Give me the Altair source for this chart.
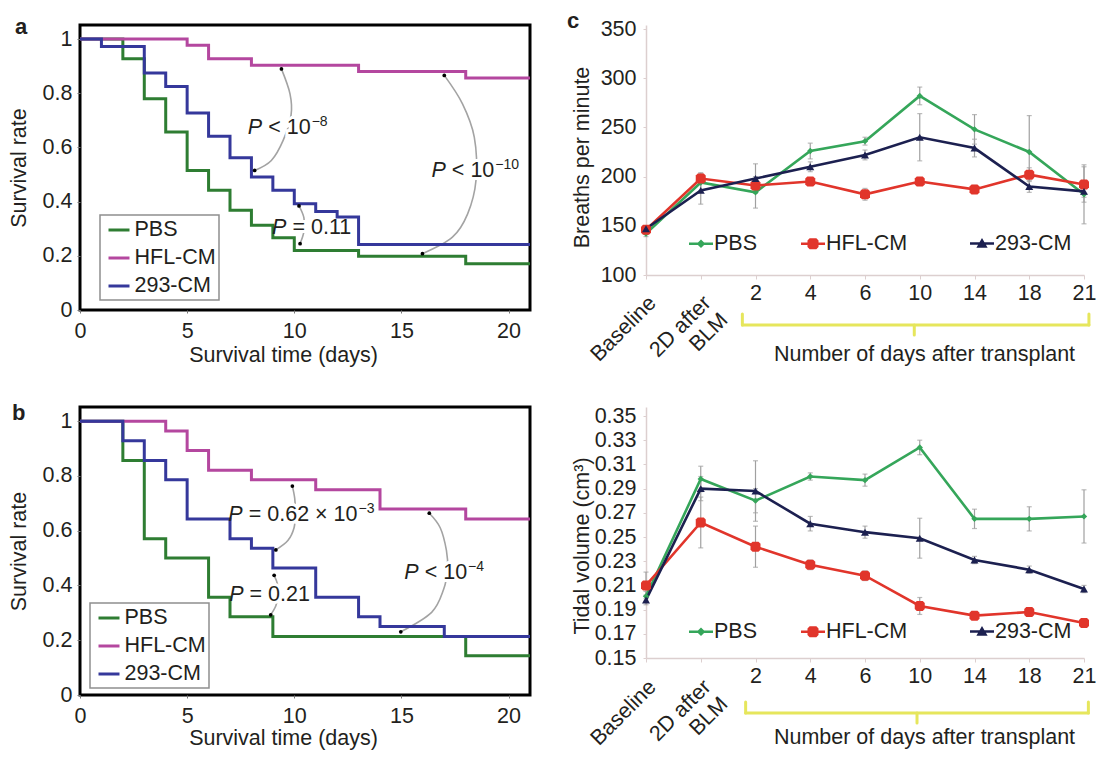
import altair as alt
import pandas as pd

FONT = "Liberation Sans"
FS = 21.5
TXT = "#231f20"
SERIES = ["PBS", "HFL-CM", "293-CM"]
KM_COLORS = ["#2e7d32", "#b4479f", "#35389b"]
CD_COLORS = ["#35a65a", "#e1352b", "#1c2050"]
ARC_GRAY = "#a3a3a3"
ERR_GRAY = "#a0a0a0"
AXIS_LIGHT = "#dccfcf"
BRACKET = "#e6e65c"

# ---------------- panel a : survival ----------------
a_pbs_day = [0, 2, 3, 4, 5, 6, 7, 8, 9, 10, 13, 18, 21]
a_pbs_surv = [1.0, 0.927, 0.780, 0.657, 0.515, 0.442, 0.368, 0.313, 0.267, 0.220, 0.198, 0.171, 0.171]
a_hfl_day = [0, 5, 6, 8, 13, 18, 21]
a_hfl_surv = [1.0, 0.977, 0.927, 0.903, 0.880, 0.856, 0.856]
a_293_day = [0, 1, 3, 4, 5, 6, 7, 8, 9, 10, 11, 12, 13, 21]
a_293_surv = [1.0, 0.973, 0.875, 0.825, 0.727, 0.641, 0.562, 0.491, 0.442, 0.392, 0.364, 0.343, 0.242, 0.242]

# comparison arcs (day, survival) and P-value notes
a_arc_x = [9.40, 9.80, 9.85, 9.48, 8.93, 8.15,
           17.0, 17.85, 18.4, 18.48, 18.09, 17.38, 15.98,
           10.22, 10.45, 10.45, 10.27]
a_arc_y = [0.890, 0.798, 0.72, 0.626, 0.552, 0.515,
           0.866, 0.761, 0.638, 0.479, 0.355, 0.269, 0.208,
           0.384, 0.34, 0.29, 0.245]
a_arc_id = [1] * 6 + [2] * 7 + [3] * 4
a_p_x = [8.55, 17.12, 9.68]
a_p_y = [0.649, 0.491, 0.282]
a_p_main = ["< 10", "< 10", "= 0.11"]
a_p_sup = ["\u22128", "\u221210", ""]

# ---------------- panel b : survival ----------------
b_pbs_day = [0, 2, 3, 4, 6, 7, 9, 18, 21]
b_pbs_surv = [1.0, 0.857, 0.571, 0.500, 0.357, 0.286, 0.214, 0.143, 0.143]
b_hfl_day = [0, 4, 5, 6, 8, 11, 14, 18, 21]
b_hfl_surv = [1.0, 0.964, 0.893, 0.821, 0.786, 0.750, 0.679, 0.643, 0.643]
b_293_day = [0, 2, 3, 4, 5, 7, 8, 9, 11, 13, 14, 17, 21]
b_293_surv = [1.0, 0.929, 0.857, 0.786, 0.643, 0.571, 0.536, 0.464, 0.357, 0.286, 0.250, 0.214, 0.214]

b_arc_x = [9.91, 10.02, 10.05, 9.99, 9.70, 9.14,
           9.06, 9.22, 9.25, 9.14, 8.90,
           16.30, 16.81, 17.10, 17.15, 16.97, 16.41, 14.97]
b_arc_y = [0.763, 0.718, 0.665, 0.611, 0.564, 0.530,
           0.437, 0.404, 0.365, 0.326, 0.293,
           0.664, 0.611, 0.528, 0.46, 0.386, 0.302, 0.231]
b_arc_id = [1] * 6 + [2] * 5 + [3] * 7
b_p_x = [7.64, 7.68, 15.85]
b_p_y = [0.637, 0.344, 0.4235]
b_p_main = ["= 0.62 \u00d7 10", "= 0.21", "< 10"]
b_p_sup = ["\u22123", "", "\u22124"]

# ---------------- panels c / d ----------------
CATEGORIES = ["Baseline", "2D after\nBLM", "2", "4", "6", "10", "14", "18", "21"]
c_pbs = [142, 194, 184, 226, 236, 282, 248, 225, 182]
c_hfl = [146, 198, 191, 195, 182, 195, 187, 202, 192]
c_293 = [147, 186, 198, 210, 222, 240, 229, 190, 185]
c_pbs_err = [3, 10, 16, 8, 4, 9, 15, 37, 30]
c_hfl_err = [3, 5, 5, 4, 6, 3, 4, 7, 18]
c_293_err = [3, 14, 15, 5, 5, 24, 9, 6, 6]

d_pbs = [0.201, 0.298, 0.280, 0.300, 0.297, 0.324, 0.265, 0.265, 0.267]
d_hfl = [0.210, 0.262, 0.242, 0.227, 0.218, 0.193, 0.185, 0.188, 0.179]
d_293 = [0.198, 0.290, 0.288, 0.261, 0.254, 0.249, 0.231, 0.223, 0.207]
d_pbs_err = [0.004, 0.0105, 0.010, 0.003, 0.005, 0.006, 0.008, 0.010, 0.022]
d_hfl_err = [0.011, 0.021, 0.017, 0.004, 0.004, 0.007, 0.003, 0.003, 0.003]
d_293_err = [0.004, 0.010, 0.025, 0.006, 0.005, 0.0165, 0.003, 0.003, 0.003]

C_TICKS = [100, 150, 200, 250, 300, 350]
D_TICKS = [0.15, 0.17, 0.19, 0.21, 0.23, 0.25, 0.27, 0.29, 0.31, 0.33, 0.35]

KM_W, A_H, B_H = 450, 285, 288
CD_W, C_H, D_H = 438, 250, 251

LINE = "M-1,-0.1L1,-0.1L1,0.1L-1,0.1Z"
OCT_UNIT = "M-1,-0.6L-0.6,-1L0.6,-1L1,-0.6L1,0.6L0.6,1L-0.6,1L-1,0.6Z"
LEG_PATHS = [
    LINE + "M0,-0.36L0.36,0L0,0.36L-0.36,0Z",
    LINE + "M-0.46,-0.28L-0.28,-0.46L0.28,-0.46L0.46,-0.28L0.46,0.28L0.28,0.46L-0.28,0.46L-0.46,0.28Z",
    LINE + "M0,-0.45L0.47,0.36L-0.47,0.36Z",
]
MARKERS = ["diamond", OCT_UNIT, "triangle-up"]
MARKER_SIZES = [40, 100, 64]

# approximate Arial advance widths (per 1000 em) to place superscripts after the main text
ADV = {" ": 278, "<": 584, "=": 584, ".": 278, "\u00d7": 584}


def text_width(s, size):
    return sum(ADV.get(ch, 556) for ch in s) * size / 1000.0


def km_frame(days_list, surv_list):
    rows = []
    for s, days, surv in zip(SERIES, days_list, surv_list):
        for d, v in zip(days, surv):
            rows.append({"series": s, "day": d, "surv": v})
    return pd.DataFrame(rows)


def km_panel(df, arc_x, arc_y, arc_id, p_x, p_y, p_main, p_sup, height, letter, letter_x, letter_y,
             leg_x, leg_y, title_y):
    x_enc = alt.X("day:Q", scale=alt.Scale(domain=[0, 21], nice=False, zero=False),
                  axis=alt.Axis(values=[0, 5, 10, 15, 20], title="Survival time (days)",
                                titleX=203, titleY=title_y, titleAlign="center",
                                titleBaseline="alphabetic", domain=False, grid=False,
                                tickSize=3, tickColor="#777777", labelPadding=7,
                                labelFlush=False, labelOverlap=False))
    y_enc = alt.Y("surv:Q", scale=alt.Scale(domain=[0, 1.052], nice=False, zero=False),
                  axis=alt.Axis(values=[0, 0.2, 0.4, 0.6, 0.8, 1], format="~g",
                                title="Survival rate", titleX=-61, titleY=height / 2,
                                titleAngle=270, titleAlign="center", titleBaseline="middle",
                                domain=False, grid=False, tickSize=3, tickColor="#777777",
                                labelPadding=5, labelOverlap=False))
    legend = alt.Legend(title=None, orient="none", legendX=leg_x, legendY=leg_y,
                        symbolType="stroke", symbolSize=441, symbolStrokeWidth=3,
                        rowPadding=5, padding=3, symbolOffset=4, labelOffset=3.5,
                        strokeColor="#8f8f8f", fillColor="white")
    color = alt.Color("series:N", scale=alt.Scale(domain=SERIES, range=KM_COLORS), legend=legend)

    n = len(arc_x)
    ends = [i == 0 or arc_id[i] != arc_id[i - 1] or i == n - 1 or arc_id[i] != arc_id[i + 1]
            for i in range(n)]
    arcs = pd.DataFrame({"day": arc_x, "surv": arc_y, "arc": arc_id, "k": list(range(n)), "end": ends})
    notes = pd.DataFrame({"day": p_x, "surv": p_y, "main": p_main, "p": ["P"] * len(p_x),
                          "sup": p_sup, "nid": list(range(len(p_x)))})

    arc_layer = alt.Chart(arcs).mark_line(interpolate="cardinal", color=ARC_GRAY,
                                          strokeWidth=1.6).encode(
        x=x_enc, y=y_enc, detail="arc:N", order="k:Q")

    def note_layers(halo):
        extra = dict(color="white", stroke="white", strokeWidth=6) if halo else dict(color=TXT)
        out = [
            alt.Chart(notes).mark_text(align="right", baseline="alphabetic", dx=-1, fontSize=FS,
                                       fontStyle="italic", **extra).encode(x=x_enc, y=y_enc, text="p:N"),
            alt.Chart(notes).mark_text(align="left", baseline="alphabetic", dx=5, fontSize=FS,
                                       **extra).encode(x=x_enc, y=y_enc, text="main:N"),
        ]
        for i, (m, s) in enumerate(zip(p_main, p_sup)):
            if s:
                out.append(alt.Chart(notes).transform_filter(alt.datum.nid == i).mark_text(
                    align="left", baseline="alphabetic", dx=5 + text_width(m, FS) + 1, dy=-8,
                    fontSize=14, **extra).encode(x=x_enc, y=y_enc, text="sup:N"))
        return out

    lines = [
        alt.Chart(df).transform_filter(alt.datum.series == s).mark_line(
            interpolate="step-after", strokeWidth=3, clip=True).encode(x=x_enc, y=y_enc, color=color)
        for s in SERIES
    ]
    dots = alt.Chart(arcs).transform_filter("datum.end").mark_point(
        filled=True, color="black", size=14, opacity=1).encode(x=x_enc, y=y_enc)
    letter_layer = alt.Chart(pd.DataFrame({"t": [letter]})).mark_text(
        align="left", baseline="alphabetic", fontSize=22, fontWeight="bold", color=TXT).encode(
        x=alt.value(letter_x), y=alt.value(letter_y), text="t:N")
    layers = [arc_layer, *note_layers(True), *lines, dots, *note_layers(False), letter_layer]
    return alt.layer(*layers).properties(
        width=KM_W, height=height, view=alt.ViewBackground(stroke="black", strokeWidth=3))


def cd_panel(vals, errs, ylo, yhi, yticks, yfmt, ytitle, ytitle_y, height, leg_y, label_y,
             bracket, bracket_y, title_y, letter=None):
    rows, err_rows, cap_rows = [], [], []
    for s, vv, ee in zip(SERIES, vals, errs):
        for i, (v, e) in enumerate(zip(vv, ee)):
            rows.append({"series": s, "idx": i, "val": v})
            err_rows.append({"series": s, "idx": i, "val": v - e, "val2": v + e})
            cap_rows.append({"idx": i, "val": v - e})
            cap_rows.append({"idx": i, "val": v + e})
    df = pd.DataFrame(rows)
    err_df = pd.DataFrame(err_rows)
    cap_df = pd.DataFrame(cap_rows)

    label_list = ",".join("'%s'" % (c if i >= 2 else "") for i, c in enumerate(CATEGORIES))
    x_enc = alt.X("idx:Q", scale=alt.Scale(domain=[0, len(CATEGORIES) - 1], nice=False, zero=False),
                  axis=alt.Axis(values=list(range(len(CATEGORIES))),
                                labelExpr="[%s][datum.value]" % label_list,
                                labelOverlap=False, labelFlush=False,
                                title="Number of days after transplant", titleX=278, titleY=title_y,
                                titleAlign="center", titleBaseline="middle",
                                domainColor=AXIS_LIGHT, domainWidth=1.5, tickColor=AXIS_LIGHT,
                                tickSize=4, labelPadding=3.5, grid=False))
    y_enc = alt.Y("val:Q", scale=alt.Scale(domain=[ylo, yhi], nice=False, zero=False),
                  axis=alt.Axis(values=yticks, format=yfmt, title=ytitle, titleX=-64,
                                titleY=ytitle_y, titleAngle=270, titleAlign="center",
                                titleBaseline="middle", domainColor=AXIS_LIGHT, domainWidth=1.5,
                                tickColor=AXIS_LIGHT, tickSize=3, labelPadding=7, grid=False,
                                labelOverlap=False))

    err_layer = alt.Chart(err_df).mark_rule(color=ERR_GRAY, strokeWidth=1.2).encode(
        x=x_enc, y=y_enc, y2="val2:Q")
    cap_layer = alt.Chart(cap_df).mark_tick(color=ERR_GRAY, orient="horizontal", size=5,
                                            thickness=1.2).encode(x=x_enc, y=y_enc)
    line_layers = [
        alt.Chart(df).transform_filter(alt.datum.series == s).mark_line(
            strokeWidth=2.6, color=col).encode(x=x_enc, y=y_enc)
        for s, col in zip(SERIES, CD_COLORS)
    ]
    marker_layers = [
        alt.Chart(df).transform_filter(alt.datum.series == s).mark_point(
            filled=True, shape=shp, size=sz, color=col, opacity=1).encode(x=x_enc, y=y_enc)
        for s, shp, sz, col in zip(SERIES, MARKERS, MARKER_SIZES, CD_COLORS)
    ]

    # two legend groups (first two series together, third on its own) as in the original
    def legend_layer(members, leg_x):
        idx = [SERIES.index(m) for m in members]
        leg = alt.Legend(title=None, orient="none", legendX=leg_x, legendY=leg_y,
                         direction="horizontal", symbolSize=576, symbolStrokeWidth=0,
                         symbolOpacity=1, labelOffset=1, columnPadding=43, padding=0)
        return alt.Chart(df).transform_filter(
            alt.FieldOneOfPredicate(field="series", oneOf=members)).mark_point(
            filled=True, opacity=0).encode(
            x=x_enc, y=y_enc,
            color=alt.Color("series:N", scale=alt.Scale(domain=members,
                                                        range=[CD_COLORS[i] for i in idx]), legend=leg),
            shape=alt.Shape("series:N", scale=alt.Scale(domain=members,
                                                        range=[LEG_PATHS[i] for i in idx]), legend=leg))

    leg1 = legend_layer(SERIES[:2], 43)
    leg2 = legend_layer(SERIES[2:], 324)

    first_lines = pd.DataFrame({"idx": [0, 1], "t": [CATEGORIES[0].split("\n")[0],
                                                     CATEGORIES[1].split("\n")[0]]})
    second_lines = pd.DataFrame({"idx": [1], "t": [CATEGORIES[1].split("\n")[1]]})
    rot1 = alt.Chart(first_lines).mark_text(angle=315, align="right", baseline="middle",
                                            dx=4.95, dy=4.95, fontSize=FS, color=TXT).encode(
        x=x_enc, y=alt.value(label_y), text="t:N")
    rot2 = alt.Chart(second_lines).mark_text(angle=315, align="right", baseline="middle",
                                             dx=4.95, dy=28.95, fontSize=FS, color=TXT).encode(
        x=x_enc, y=alt.value(label_y), text="t:N")

    br = pd.DataFrame({"idx": [bracket[0]], "idx2": [bracket[2]]})
    br_pts = pd.DataFrame({"idx": [bracket[0], bracket[2]]})
    br_mid = pd.DataFrame({"idx": [bracket[1]]})
    br_h = alt.Chart(br).mark_rule(color=BRACKET, strokeWidth=3, strokeCap="round").encode(
        x=x_enc, x2="idx2:Q", y=alt.value(bracket_y))
    br_e = alt.Chart(br_pts).mark_rule(color=BRACKET, strokeWidth=3, strokeCap="round").encode(
        x=x_enc, y=alt.value(bracket_y - 11), y2=alt.value(bracket_y))
    br_m = alt.Chart(br_mid).mark_rule(color=BRACKET, strokeWidth=3, strokeCap="round").encode(
        x=x_enc, y=alt.value(bracket_y), y2=alt.value(bracket_y + 10))

    layers = [leg1, leg2, err_layer, cap_layer, *line_layers, *marker_layers, rot1, rot2,
              br_h, br_e, br_m]
    if letter:
        layers.append(alt.Chart(pd.DataFrame({"t": [letter]})).mark_text(
            align="left", baseline="alphabetic", fontSize=22, fontWeight="bold", color=TXT).encode(
            x=alt.value(-79), y=alt.value(3), text="t:N"))
    return alt.layer(*layers).resolve_scale(color="independent", shape="independent").resolve_legend(
        color="independent", shape="independent").properties(width=CD_W, height=height)


pa = km_panel(km_frame([a_pbs_day, a_hfl_day, a_293_day], [a_pbs_surv, a_hfl_surv, a_293_surv]),
              a_arc_x, a_arc_y, a_arc_id, a_p_x, a_p_y, a_p_main, a_p_sup, A_H, "a", -65, 9,
              20, 190, 51)
pb = km_panel(km_frame([b_pbs_day, b_hfl_day, b_293_day], [b_pbs_surv, b_hfl_surv, b_293_surv]),
              b_arc_x, b_arc_y, b_arc_id, b_p_x, b_p_y, b_p_main, b_p_sup, B_H, "b", -68, 13,
              10, 196, 49)
pc = cd_panel([c_pbs, c_hfl, c_293], [c_pbs_err, c_hfl_err, c_293_err], 100, 354.07, C_TICKS, "d",
              "Breaths per minute", 132, C_H, 206.5, C_H + 25, [1.76, 4.9, 8.09], C_H + 50, 79,
              letter="c")
pdd = cd_panel([d_pbs, d_hfl, d_293], [d_pbs_err, d_hfl_err, d_293_err], 0.15, 0.35744, D_TICKS,
               ".2f", "Tidal volume (cm\u00b3)", 138.5, D_H, 212.5, D_H + 26, [1.82, 4.95, 8.08],
               D_H + 55, 79)

chart = alt.concat(pa, pc, pb, pdd, columns=2, spacing={"row": 97, "column": 116},
                   bounds="flush", align="each")
chart = chart.resolve_scale(color="independent", shape="independent").resolve_legend(
    color="independent", shape="independent")
chart = chart.properties(autosize=alt.AutoSizeParams(type="none"),
                         padding={"left": 72, "top": 17, "right": 1016, "bottom": 725})
chart = chart.configure(font=FONT).configure_view(strokeWidth=0).configure_axis(
    labelFontSize=FS, titleFontSize=FS, labelColor=TXT, titleColor=TXT, titleFontWeight="normal",
    labelFont=FONT, titleFont=FONT).configure_legend(
    labelFontSize=FS, labelColor=TXT, labelFont=FONT, strokeWidth=1.5).configure_text(font=FONT)

chart.save("out.html", embed_options={"renderer": "svg", "actions": False})
